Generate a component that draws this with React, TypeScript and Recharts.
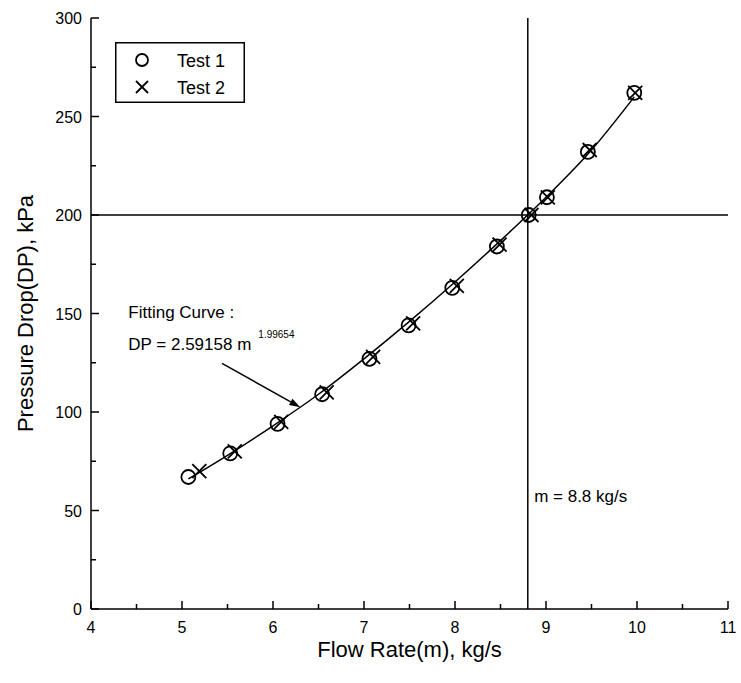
import React from "react";
import {
  ComposedChart,
  Scatter,
  Line,
  XAxis,
  YAxis,
  ReferenceLine,
  ReferenceDot,
  Legend,
} from "recharts";

// axis ticks (labels only on the integer / multiple-of-50 ones)
const xTicks = [4, 4.5, 5, 5.5, 6, 6.5, 7, 7.5, 8, 8.5, 9, 9.5, 10, 10.5, 11];
const yTicks = [0, 25, 50, 75, 100, 125, 150, 175, 200, 225, 250, 275, 300];

// Test 1 (open circles)
const test1M = [5.07, 5.53, 6.05, 6.54, 7.06, 7.49, 7.97, 8.46, 8.81, 9.01, 9.46, 9.97];
const test1DP = [67, 79, 94, 109, 127, 144, 163, 184, 200, 209, 232, 262];

// Test 2 (crosses)
const test2M = [5.19, 5.58, 6.09, 6.59, 7.1, 7.54, 8.02, 8.49, 8.84, 9.02, 9.48, 9.98];
const test2DP = [70, 80, 95, 110, 128, 145, 164, 185, 200, 209, 233, 262];

// fitting curve
const curveM = [5.07, 5.5, 6.0, 6.5, 7.0, 7.5, 8.0, 8.5, 9.0, 9.5, 9.97];
const curveDP = [66, 78, 93, 109, 127, 146, 166, 187, 209, 233, 260];

const designFlow = 8.8;
const designDP = 200;

const test1 = test1M.map((m, i) => ({ m, dp: test1DP[i] }));
const test2 = test2M.map((m, i) => ({ m, dp: test2DP[i] }));
const curve = curveM.map((m, i) => ({ m, dp: curveDP[i] }));

const FONT = "'Liberation Sans', Arial, sans-serif";

const OpenCircle = (p: any) => (
  <circle cx={p.cx} cy={p.cy} r={7} fill="none" stroke="#000" strokeWidth={1.8} />
);

const Cross = (p: any) => {
  const s = 7;
  return (
    <g stroke="#000" strokeWidth={1.8}>
      <line x1={p.cx - s} y1={p.cy - s} x2={p.cx + s} y2={p.cy + s} />
      <line x1={p.cx - s} y1={p.cy + s} x2={p.cx + s} y2={p.cy - s} />
    </g>
  );
};

const BottomTick = (p: any) => {
  const v = p.payload.value;
  const major = Number.isInteger(v);
  return (
    <g>
      <line x1={p.x} x2={p.x} y1={p.y} y2={p.y - (major ? 8 : 5)} stroke="#000" strokeWidth={1.5} />
      {major && (
        <text x={p.x} y={p.y + 24} textAnchor="middle" fontSize={16} fontFamily={FONT} fill="#000">
          {v}
        </text>
      )}
    </g>
  );
};

const TopTick = (p: any) => {
  const major = Number.isInteger(p.payload.value);
  return <line x1={p.x} x2={p.x} y1={p.y} y2={p.y + (major ? 8 : 5)} stroke="#000" strokeWidth={1.5} />;
};

const LeftTick = (p: any) => {
  const v = p.payload.value;
  const major = v % 50 === 0;
  return (
    <g>
      <line x1={p.x} x2={p.x + (major ? 8 : 5)} y1={p.y} y2={p.y} stroke="#000" strokeWidth={1.5} />
      {major && (
        <text x={p.x - 9} y={p.y + 6} textAnchor="end" fontSize={16} fontFamily={FONT} fill="#000">
          {v}
        </text>
      )}
    </g>
  );
};

const RightTick = (p: any) => {
  const major = p.payload.value % 50 === 0;
  return <line x1={p.x} x2={p.x - (major ? 8 : 5)} y1={p.y} y2={p.y} stroke="#000" strokeWidth={1.5} />;
};

const Arrow = (p: any) => {
  const { x1, y1, x2, y2 } = p;
  const a = Math.atan2(y2 - y1, x2 - x1);
  const len = 11;
  const w = 3.5;
  const bx = x2 - len * Math.cos(a);
  const by = y2 - len * Math.sin(a);
  const nx = -Math.sin(a) * w;
  const ny = Math.cos(a) * w;
  return (
    <g>
      <line x1={x1} y1={y1} x2={bx} y2={by} stroke="#000" strokeWidth={1.5} />
      <polygon points={`${x2},${y2} ${bx + nx},${by + ny} ${bx - nx},${by - ny}`} fill="#000" />
    </g>
  );
};

const FitLabel = (p: any) => (
  <text x={p.cx} y={p.cy} fontSize={17} fontFamily={FONT} fill="#000">
    Fitting Curve :
  </text>
);

const FitEquation = (p: any) => (
  <text x={p.cx} y={p.cy} fontSize={17} fontFamily={FONT} fill="#000">
    DP = 2.59158 m
    <tspan dx={7} dy={-12} fontSize={10}>
      1.99654
    </tspan>
  </text>
);

const FlowLabel = (p: any) => (
  <text x={p.cx} y={p.cy} fontSize={17} fontFamily={FONT} fill="#000">
    m = 8.8 kg/s
  </text>
);

const LegendBox = () => (
  <svg width={130} height={61} style={{ display: "block" }}>
    <rect x={0.75} y={0.75} width={128.5} height={59.5} fill="#fff" stroke="#000" strokeWidth={1.5} />
    <circle cx={27} cy={18} r={6} fill="none" stroke="#000" strokeWidth={1.8} />
    <text x={62} y={25} fontSize={18} fontFamily={FONT} fill="#000">
      Test 1
    </text>
    <g stroke="#000" strokeWidth={1.8}>
      <line x1={21} y1={39} x2={33} y2={51} />
      <line x1={21} y1={51} x2={33} y2={39} />
    </g>
    <text x={62} y={52} fontSize={18} fontFamily={FONT} fill="#000">
      Test 2
    </text>
  </svg>
);

export default function App() {
  return (
    <div style={{ position: "absolute", left: 0, top: 0, width: 741, height: 683, background: "#fff" }}>
      <ComposedChart
        width={741}
        height={683}
        margin={{ top: 18, right: 13, bottom: 0, left: 0 }}
        style={{ fontFamily: FONT }}
      >
        <XAxis
          dataKey="m"
          type="number"
          domain={[4, 11]}
          ticks={xTicks}
          interval={0}
          height={74}
          tickLine={false}
          tickSize={0}
          tickMargin={0}
          tick={<BottomTick />}
          axisLine={{ stroke: "#000", strokeWidth: 1.5 }}
          label={{
            content: (lp: any) => (
              <text
                x={lp.viewBox.x + lp.viewBox.width / 2}
                y={lp.viewBox.y + 48}
                textAnchor="middle"
                fontSize={22}
                fontFamily={FONT}
                fill="#000"
              >
                Flow Rate(m), kg/s
              </text>
            ),
          }}
        />
        <XAxis
          xAxisId="top"
          orientation="top"
          type="number"
          domain={[4, 11]}
          ticks={xTicks}
          interval={0}
          height={0}
          tickLine={false}
          tickSize={0}
          tickMargin={0}
          tick={<TopTick />}
          axisLine={{ stroke: "#000", strokeWidth: 1.5 }}
        />
        <YAxis
          dataKey="dp"
          type="number"
          domain={[0, 300]}
          ticks={yTicks}
          interval={0}
          width={91}
          tickLine={false}
          tickSize={0}
          tickMargin={0}
          tick={<LeftTick />}
          axisLine={{ stroke: "#000", strokeWidth: 1.5 }}
          label={{
            content: (lp: any) => {
              const cx = 33;
              const cy = lp.viewBox.y + lp.viewBox.height / 2;
              return (
                <text
                  x={cx}
                  y={cy}
                  transform={`rotate(-90, ${cx}, ${cy})`}
                  textAnchor="middle"
                  fontSize={22}
                  fontFamily={FONT}
                  fill="#000"
                >
                  Pressure Drop(DP), kPa
                </text>
              );
            },
          }}
        />
        <YAxis
          yAxisId="right"
          orientation="right"
          type="number"
          domain={[0, 300]}
          ticks={yTicks}
          interval={0}
          width={0}
          tickLine={false}
          tickSize={0}
          tickMargin={0}
          tick={<RightTick />}
          axisLine={{ stroke: "#000", strokeWidth: 1.5 }}
        />

        <ReferenceLine y={designDP} stroke="#000" strokeWidth={1.5} />
        <ReferenceLine x={designFlow} stroke="#000" strokeWidth={1.5} />

        <Line
          data={curve}
          dataKey="dp"
          type="monotone"
          stroke="#000"
          strokeWidth={1.5}
          dot={false}
          activeDot={false}
          legendType="none"
          isAnimationActive={false}
        />
        <Scatter name="Test 1" data={test1} shape={OpenCircle} isAnimationActive={false} />
        <Scatter name="Test 2" data={test2} shape={Cross} isAnimationActive={false} />

        <ReferenceLine
          segment={[
            { x: 5.44, y: 124.7 },
            { x: 6.3, y: 102.4 },
          ]}
          shape={Arrow}
        />
        <ReferenceDot x={4.41} y={147.7} r={1} shape={FitLabel} />
        <ReferenceDot x={4.41} y={131.5} r={1} shape={FitEquation} />
        <ReferenceDot x={8.87} y={54.3} r={1} shape={FlowLabel} />

        <Legend
          layout="vertical"
          align="center"
          verticalAlign="middle"
          wrapperStyle={{ left: 115, top: 42, width: 130, height: 61 }}
          content={() => <LegendBox />}
        />
      </ComposedChart>
    </div>
  );
}
